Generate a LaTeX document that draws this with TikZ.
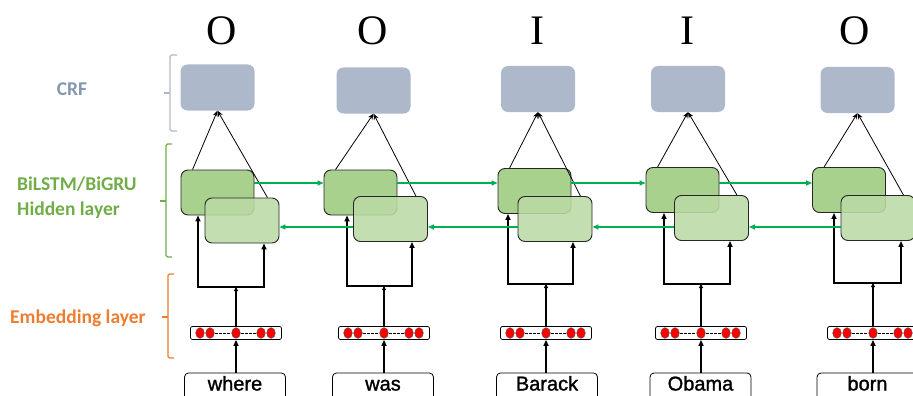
\documentclass[tikz,border=0pt]{standalone}
\usepackage{fontspec}
\setmainfont{Liberation Serif}
\newfontfamily\labelfont{Carlito}
\newfontfamily\wordfont[FakeBold=1.3]{Liberation Sans}
\usetikzlibrary{arrows.meta}

\definecolor{crfgray}{HTML}{ADB9CA}
\definecolor{crftext}{HTML}{8497B0}
\definecolor{lstmdark}{HTML}{A9D18E}
\definecolor{lstmlight}{HTML}{BBDAA5}
\definecolor{recgreen}{HTML}{00B050}
\definecolor{embedorange}{HTML}{ED7D31}
\definecolor{layergreen}{HTML}{70AD47}

\tikzset{
  crfbox/.style={fill=crfgray, rounded corners=7pt, minimum width=74pt, minimum height=46pt, inner sep=0pt},
  darkcell/.style={draw=black!85, line width=0.9pt, fill=lstmdark, rounded corners=7pt,
                   minimum width=73pt, minimum height=45pt, inner sep=0pt},
  lightcell/.style={draw=black!85, line width=0.9pt, fill=lstmlight, fill opacity=0.88, rounded corners=7pt,
                    minimum width=74pt, minimum height=45pt, inner sep=0pt},
  embbar/.style={draw, line width=0.8pt, rounded corners=2pt, minimum width=91pt, minimum height=13pt, inner sep=0pt},
  wordbox/.style={draw, line width=0.8pt, rounded corners=4pt, minimum width=101pt, minimum height=32pt, inner sep=0pt},
  wordtext/.style={font=\wordfont\fontsize{20}{20}\selectfont, inner sep=0pt, anchor=base},
  feed/.style={line width=1.8pt, line join=miter, -{Triangle[length=6pt,width=5pt]}},
  junction/.style={line width=1.8pt, -{Triangle[length=4pt,width=4pt]}},
  recur/.style={draw=recgreen, line width=1.5pt, -{Triangle[length=6pt,width=5pt]}},
  toplink/.style={line width=0.8pt, -{Stealth[length=6pt,width=5pt]}},
  tagtext/.style={font=\fontsize{42}{42}\selectfont, inner sep=0pt},
  sidelabel/.style={font=\labelfont\bfseries\fontsize{19.5}{25}\selectfont, align=left, inner sep=0pt},
  bead/.style={fill=red, draw=black!70, line width=0.4pt},
  bracketline/.style={line width=1.4pt, rounded corners=1.5pt}
}

\begin{document}
\begin{tikzpicture}[x=1pt, y=-1pt]
\useasboundingbox (0,0) rectangle (913,396);
\clip (0,0) rectangle (913,396);

% layer names and their brackets
\node[sidelabel, text=crftext] (crflabel) at (72,89) {CRF};
\node[sidelabel, text=layergreen, anchor=west] (rnnlabel) at (17,198) {BiLSTM/BiGRU\\Hidden layer};
\node[sidelabel, text=embedorange, anchor=west] (emblabel) at (10,318) {Embedding layer};

\draw[bracketline, draw=crfgray] (177,55) -- (170,55) -- (170,131) -- (177,131);
\draw[bracketline, draw=crfgray] (170,93) -- (164,93);
\draw[bracketline, draw=layergreen] (172,144) -- (166,144) -- (166,257) -- (172,257);
\draw[bracketline, draw=layergreen] (166,201) -- (160,201);
\draw[bracketline, draw=embedorange] (174,274) -- (168,274) -- (168,358) -- (174,358);
\draw[bracketline, draw=embedorange] (168,317) -- (162,317);

\coordinate (rowR) at (0,183);
\coordinate (rowL) at (0,227);

% one column per token
\foreach \i/\dx/\dy/\lx/\ly/\cx/\cy/\bx/\wx/\bl/\br/\by/\tx/\tag/\word in {
  1/217.5/192.5/242/220.5/217.5/87.5/236/235/198/264/287/222/O/where,
  2/360.5/192.5/390.5/219/373.5/90.5/384/383/347/412/286/373/O/was,
  3/534.5/191/555/219/538/89/546/547/508/573/284/537/I/Barack,
  4/682.5/190/711.5/218/688/89/701/700.5/664/730/284/687/I/Obama,
  5/849/190/878/218/857.5/90/873/867.5/834/901/283/855/O/born}
{
  \node[tagtext] (t\i) at (\tx,31) {\tag};
  \node[crfbox] (c\i) at (\cx,\cy) {};
  \node[darkcell] (d\i) at (\dx,\dy) {};
  \draw[toplink] ([xshift=12pt]d\i.north west) -- (c\i.south);
  \node[lightcell] (l\i) at (\lx,\ly) {};
  \draw[toplink] ([xshift=-12pt]l\i.north east) -- (c\i.south);

  % embedding vector
  \node[embbar] (e\i) at (\bx,333) {};
  \draw[line width=0.6pt, dash pattern=on 2.5pt off 1.5pt] ({\bx-21},333) -- ({\bx-5},333);
  \draw[line width=0.6pt, dash pattern=on 2.5pt off 1.5pt] ({\bx+5},333) -- ({\bx+20},333);
  \foreach \o in {-36,-26,0,25,35}
    \draw[bead] ({\bx+\o},333) ellipse [x radius=4.3, y radius=5.3];

  % input word
  \node[wordbox] (w\i) at (\wx,389) {};
  \node[wordtext] (wt\i) at (\wx,390.5) {\word};
  \draw[feed] (e\i.south |- w\i.north) -- (e\i.south);

  % split into forward and backward cells
  \coordinate (j\i) at (\bx,\by);
  \coordinate (bl\i) at (\bl,\by);
  \coordinate (br\i) at (\br,\by);
  \draw[junction] (e\i.north) -- (j\i);
  \draw[feed, {Triangle[length=6pt,width=5pt]}-{Triangle[length=6pt,width=5pt]}]
    (bl\i |- d\i.south) -- (bl\i) -- (br\i) -- (br\i |- l\i.south);
}

% recurrent connections
\foreach \i/\j in {1/2,2/3,3/4,4/5}{
  \draw[recur] (d\i.east |- rowR) -- (d\j.west |- rowR);
  \draw[recur] (l\j.west |- rowL) -- (l\i.east |- rowL);
}
\end{tikzpicture}
\end{document}
